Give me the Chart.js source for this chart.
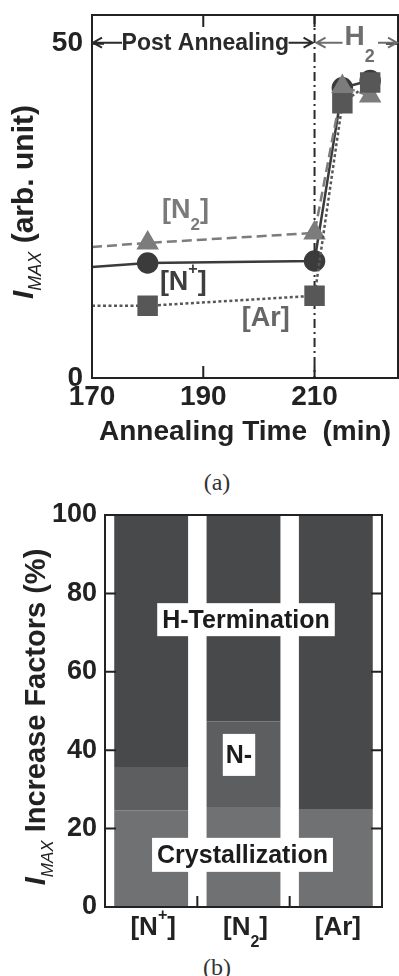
<!DOCTYPE html>
<html>
<head>
<meta charset="utf-8">
<script src="https://cdn.jsdelivr.net/npm/chart.js@4.4.1/dist/chart.umd.min.js"></script>
<style>
  html, body { margin: 0; padding: 0; background: #fff; }
  #wrap { position: relative; width: 399px; height: 976px; overflow: hidden; }
  canvas { position: absolute; left: 0; }
  .cap { position: absolute; left: 217px; transform: translateX(-50%); font: 24px "Liberation Serif", "DejaVu Serif", serif; color: #333; line-height: 24px; }
</style>
</head>
<body>
<div id="wrap">
  <canvas id="ch-time" width="399" height="455" style="top:0"></canvas>
  <div class="cap" style="top:470px">(a)</div>
  <canvas id="ch-factor" width="399" height="460" style="top:490px"></canvas>
  <div class="cap" style="top:955px">(b)</div>
</div>
<script>
// (a) peak current vs annealing time
const TIMES = [170, 180, 210, 215, 220];
const N_ION = [16.6, 17.2, 17.5, 43.4, 44.5];
const N2_GAS = [19.6, 20.2, 21.7, 43.6, 42.2];
const AR_GAS = [10.8, 10.8, 12.3, 41.1, 44.2];
const X_TICKS = [170, 180, 190, 200, 210, 220];
const X_LABELS = [170, 190, 210];
const Y_TICKS = [0, 5, 10, 15, 20, 25, 30, 35, 40, 45, 50];
const Y_LABELS = [0, 50];
const SWITCH_TIME = 210;

// (b) share of the increase per factor
const GASES = ['[N^{+}]', '[N_{2}]', '[Ar]'];
const CRYSTAL = [24.7, 25.5, 25.0];
const N_TERM = [11.0, 21.9, 0];
const H_TERM = [64.3, 52.6, 75.0];

const SANS = '"Liberation Sans", Arial, Helvetica, sans-serif';
Chart.defaults.font.family = SANS;
Chart.defaults.color = '#222';

// "[N_{2}]" -> runs with subscript / superscript offsets
function runs(str, size) {
  return str.split(/(\^\{[^}]*\}|_\{[^}]*\})/).filter(Boolean).map(s => {
    if (s[0] === '^') return { t: s.slice(2, -1), font: `bold ${Math.round(size * 0.6)}px ${SANS}`, dy: -size * 0.58 };
    if (s[0] === '_') return { t: s.slice(2, -1), font: `bold ${Math.round(size * 0.62)}px ${SANS}`, dy: size * 0.45 };
    return { t: s, font: `bold ${size}px ${SANS}`, dy: 0 };
  });
}

// draws runs on one baseline; align 'left' or 'center'
function drawRuns(ctx, parts, x, y, color, align, rotate) {
  ctx.save();
  ctx.translate(x, y);
  if (rotate) ctx.rotate(-Math.PI / 2);
  ctx.fillStyle = color;
  ctx.textBaseline = 'alphabetic';
  ctx.textAlign = 'left';
  let total = 0;
  parts.forEach(p => { ctx.font = p.font; p.w = ctx.measureText(p.t).width; total += p.w; });
  let cx = align === 'center' ? -total / 2 : 0;
  parts.forEach(p => { ctx.font = p.font; ctx.fillText(p.t, cx, p.dy); cx += p.w; });
  ctx.restore();
}

function arrow(ctx, from, to, y) {
  const dir = Math.sign(to - from);
  ctx.beginPath();
  ctx.moveTo(from, y); ctx.lineTo(to, y);
  ctx.moveTo(to - dir * 9, y - 5); ctx.lineTo(to, y); ctx.lineTo(to - dir * 9, y + 5);
  ctx.stroke();
}

// keep edge labels from shrinking the plot box
function noEdgePad(s) {
  s.paddingTop = 0; s.paddingBottom = 0; s.paddingLeft = 0; s.paddingRight = 0;
}

// box frame with inward tick marks
function drawFrame(chart, xTicks, yTicks, len, xTop) {
  const { ctx, chartArea: a } = chart;
  ctx.save();
  ctx.strokeStyle = '#222';
  ctx.lineWidth = 2;
  ctx.strokeRect(a.left, a.top, a.right - a.left, a.bottom - a.top);
  ctx.beginPath();
  xTicks.forEach(px => {
    ctx.moveTo(px, a.bottom); ctx.lineTo(px, a.bottom - len);
    if (xTop) { ctx.moveTo(px, a.top); ctx.lineTo(px, a.top + len); }
  });
  yTicks.forEach(py => {
    ctx.moveTo(a.left, py); ctx.lineTo(a.left + len, py);
    ctx.moveTo(a.right, py); ctx.lineTo(a.right - len, py);
  });
  ctx.stroke();
  ctx.restore();
}

const annealPlugin = {
  id: 'anneal',
  beforeDatasetsDraw(chart) {
    const { ctx, chartArea: a, scales: { x } } = chart;
    const xs = x.getPixelForValue(SWITCH_TIME);
    ctx.save();
    ctx.strokeStyle = '#2a2a2a';
    ctx.lineWidth = 2;
    ctx.setLineDash([9, 4, 2, 4]);
    ctx.beginPath(); ctx.moveTo(xs, a.top); ctx.lineTo(xs, a.bottom); ctx.stroke();
    ctx.restore();
  },
  afterDatasetsDraw(chart) {
    const { ctx, chartArea: a, scales: { x, y } } = chart;
    const xt = x.ticks.filter(t => t.value > x.min).map(t => x.getPixelForValue(t.value));
    const yt = y.ticks.filter(t => t.value > 0).map(t => y.getPixelForValue(t.value));
    drawFrame(chart, xt, yt, 12, true);

    // period arrows
    const xs = x.getPixelForValue(SWITCH_TIME);
    const ya = y.getPixelForValue(50) - 1;
    ctx.save();
    ctx.lineWidth = 2;
    ctx.strokeStyle = '#2a2a2a';
    arrow(ctx, a.left + 30, a.left + 1, ya);
    arrow(ctx, xs - 26, xs - 2, ya);
    ctx.fillStyle = '#2a2a2a';
    ctx.font = `bold 23px ${SANS}`;
    ctx.textAlign = 'center';
    ctx.textBaseline = 'middle';
    ctx.fillText('Post Annealing', (a.left + xs) / 2 + 2, ya + 1);
    ctx.strokeStyle = '#6e6e6e';
    arrow(ctx, xs + 28, xs + 2, ya);
    arrow(ctx, a.right - 20, a.right - 1, ya);
    ctx.restore();
    drawRuns(ctx, [
      { t: 'H', font: `bold 28px ${SANS}`, dy: 0 },
      { t: '2', font: `bold 18px ${SANS}`, dy: 17 }
    ], xs + 30, ya + 2, '#6e6e6e', 'left');

    // series names
    drawRuns(ctx, runs('[N_{2}]', 27), x.getPixelForValue(182.6), y.getPixelForValue(23.9), '#7a7a7a', 'left');
    drawRuns(ctx, runs('[N^{+}]', 27), x.getPixelForValue(182.2), y.getPixelForValue(13.2), '#3e3e3e', 'left');
    drawRuns(ctx, runs('[Ar]', 27), x.getPixelForValue(196.9), y.getPixelForValue(7.85), '#666', 'left');

    // y title
    drawRuns(ctx, [
      { t: 'I', font: `italic bold 30px ${SANS}`, dy: 0 },
      { t: 'MAX', font: `italic 18px ${SANS}`, dy: 8 },
      { t: ' (arb. unit)', font: `bold 30px ${SANS}`, dy: 0 }
    ], 33, 202, '#222', 'center', true);
  }
};

const xy = vals => TIMES.map((t, i) => ({ x: t, y: vals[i] }));
const marks = r => TIMES.map((t, i) => (i === 0 ? 0 : r));

new Chart(document.getElementById('ch-time'), {
  type: 'line',
  data: {
    datasets: [
      { label: 'Ar', data: xy(AR_GAS), borderColor: '#575757', backgroundColor: '#575757', borderWidth: 2.5,
        borderDash: [3, 2.5], pointStyle: 'rect', pointRadius: marks(12.7), order: 0 },
      { label: 'N2', data: xy(N2_GAS), borderColor: '#7c7c7c', backgroundColor: '#7c7c7c', borderWidth: 2.5,
        borderDash: [10, 5], pointStyle: 'triangle', pointRadius: marks(10.5), order: 1 },
      { label: 'N+', data: xy(N_ION), borderColor: '#3b3b3b', backgroundColor: '#3b3b3b', borderWidth: 2.5,
        pointStyle: 'circle', pointRadius: marks(9.5), order: 2 }
    ]
  },
  options: {
    responsive: false,
    animation: false,
    layout: { autoPadding: false, padding: { left: 0, top: 15, right: 1, bottom: 0 } },
    plugins: { legend: { display: false }, tooltip: { enabled: false } },
    elements: { line: { tension: 0 } },
    scales: {
      x: {
        type: 'linear', min: 170, max: 225,
        grid: { display: false }, border: { display: false },
        afterBuildTicks: s => { s.ticks = X_TICKS.map(v => ({ value: v })); },
        ticks: { autoSkip: false, maxRotation: 0, padding: -6, color: '#222',
                 font: { size: 28, weight: 'bold' },
                 callback: v => (X_LABELS.includes(v) ? String(v) : null) },
        title: { display: true, text: 'Annealing Time  (min)', color: '#222',
                 font: { size: 28, weight: 'bold' }, padding: { top: 0, bottom: 6 } },
        afterFit: s => { s.height = 77; noEdgePad(s); }
      },
      y: {
        min: 0, max: 54.3,
        grid: { display: false }, border: { display: false },
        afterBuildTicks: s => { s.ticks = Y_TICKS.map(v => ({ value: v })); },
        ticks: { autoSkip: false, padding: 1, color: '#222',
                 font: { size: 28, weight: 'bold' },
                 callback: v => (Y_LABELS.includes(v) ? String(v) : null) },
        afterFit: s => { s.width = 92; noEdgePad(s); }
      }
    }
  },
  plugins: [annealPlugin]
});

const factorPlugin = {
  id: 'factor',
  afterDatasetsDraw(chart) {
    const { ctx, scales: { x, y } } = chart;
    const bounds = GASES.slice(1).map((g, i) => (x.getPixelForValue(i) + x.getPixelForValue(i + 1)) / 2);
    const yt = y.ticks.filter(t => t.value > 0 && t.value < 100).map(t => y.getPixelForValue(t.value));
    drawFrame(chart, bounds, yt, 11, false);

    // factor names on white boxes
    const mid = x.getPixelForValue(1);
    const box = (text, cx, cy, padX, h) => {
      ctx.save();
      ctx.font = `bold 25px ${SANS}`;
      const w = ctx.measureText(text).width + padX * 2;
      ctx.fillStyle = '#fff';
      ctx.fillRect(cx - w / 2, cy - h / 2, w, h);
      ctx.fillStyle = '#1c1c1c';
      ctx.textAlign = 'center';
      ctx.textBaseline = 'middle';
      ctx.fillText(text, cx, cy + 1);
      ctx.restore();
    };
    box('H-Termination', mid + 2.5, y.getPixelForValue(73.3), 5, 33);
    box('N-', mid - 4.5, y.getPixelForValue(38.8), 3, 42);
    box('Crystallization', mid - 1, y.getPixelForValue(13.3), 5, 34);

    // category labels
    GASES.forEach((g, i) => drawRuns(ctx, runs(g, 26), x.getPixelForValue(i) + 2, chart.chartArea.bottom + 28, '#222', 'center'));

    drawRuns(ctx, [
      { t: 'I', font: `italic bold 29px ${SANS}`, dy: 0 },
      { t: 'MAX', font: `italic 17px ${SANS}`, dy: 8 },
      { t: ' Increase Factors (%)', font: `bold 29px ${SANS}`, dy: 0 }
    ], 45, 227, '#222', 'center', true);
  }
};

new Chart(document.getElementById('ch-factor'), {
  type: 'bar',
  data: {
    labels: GASES,
    datasets: [
      { label: 'Crystallization', data: CRYSTAL, backgroundColor: '#707173' },
      { label: 'N-', data: N_TERM, backgroundColor: '#5d5e60' },
      { label: 'H-Termination', data: H_TERM, backgroundColor: '#48494b' }
    ]
  },
  options: {
    responsive: false,
    animation: false,
    layout: { autoPadding: false, padding: { left: 0, top: 25, right: 17, bottom: 0 } },
    datasets: { bar: { barPercentage: 0.8, categoryPercentage: 1 } },
    plugins: { legend: { display: false }, tooltip: { enabled: false } },
    scales: {
      x: {
        stacked: true,
        grid: { display: false }, border: { display: false },
        ticks: { display: false },
        afterFit: s => { s.height = 43; noEdgePad(s); }
      },
      y: {
        stacked: true, min: 0, max: 100,
        grid: { display: false }, border: { display: false },
        ticks: { stepSize: 20, padding: 0, color: '#222', font: { size: 27, weight: 'bold' } },
        afterFit: s => { s.width = 105; noEdgePad(s); }
      }
    }
  },
  plugins: [factorPlugin]
});
</script>
</body>
</html>
